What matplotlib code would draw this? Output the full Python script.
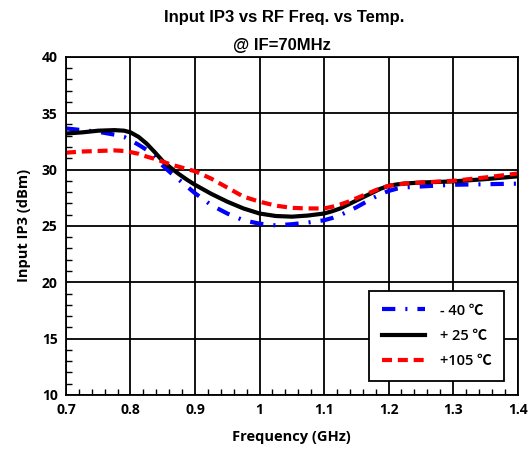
import matplotlib
matplotlib.use("Agg")
import matplotlib.pyplot as plt
from matplotlib.ticker import MultipleLocator, FixedLocator

freq = [0.70, 0.725, 0.75, 0.775, 0.79, 0.80, 0.8125, 0.825, 0.8375, 0.85, 0.8625, 0.875,
        0.8875, 0.90, 0.925, 0.95, 0.975, 1.00, 1.025, 1.05, 1.075, 1.10, 1.1125, 1.125,
        1.1375, 1.15, 1.1625, 1.175, 1.1875, 1.20, 1.2125, 1.225, 1.25, 1.30, 1.35, 1.40]

ip3_m40 = [33.65, 33.5, 33.35, 33.1, 32.9, 32.6, 32.2, 31.75, 31.1, 30.35, 29.7, 29.1,
           28.5, 27.9, 26.85, 26.1, 25.5, 25.2, 25.05, 25.15, 25.3, 25.5, 25.7, 25.95,
           26.3, 26.65, 27.05, 27.45, 27.8, 28.1, 28.3, 28.42, 28.5, 28.65, 28.7, 28.75]
ip3_p25 = [33.2, 33.3, 33.45, 33.5, 33.45, 33.3, 32.9, 32.3, 31.55, 30.75, 30.15, 29.6,
           29.1, 28.65, 27.85, 27.15, 26.55, 26.1, 25.88, 25.82, 25.92, 26.1, 26.3, 26.55,
           26.9, 27.25, 27.6, 27.95, 28.3, 28.55, 28.68, 28.76, 28.85, 28.95, 29.15, 29.4]
ip3_p105 = [31.5, 31.6, 31.65, 31.7, 31.65, 31.55, 31.4, 31.15, 30.95, 30.7, 30.45, 30.25,
            30.05, 29.85, 29.2, 28.4, 27.6, 27.15, 26.8, 26.6, 26.55, 26.55, 26.7, 26.9,
            27.15, 27.45, 27.75, 28.05, 28.35, 28.55, 28.68, 28.76, 28.85, 29.0, 29.3, 29.65]

labels = ["- 40 \u2103", "+ 25 \u2103", "+105 \u2103"]
x_ticks = [0.7, 0.8, 0.9, 1.0, 1.1, 1.2, 1.3, 1.4]
x_ticklabels = ["0.7", "0.8", "0.9", "1", "1.1", "1.2", "1.3", "1.4"]
y_ticks = [10, 15, 20, 25, 30, 35, 40]

fams = ["Open Sans", "Noto Sans CJK SC", "DejaVu Sans"]

fig = plt.figure(figsize=(5.32, 4.55), dpi=100)
ax = fig.add_axes([0.124, 0.132, 0.849, 0.743])

ax.plot(freq, ip3_m40, color="#0000FF", lw=3, dashes=(3.2, 2.4, 0.5, 2.4),
        dash_capstyle="butt", label=labels[0])
ax.plot(freq, ip3_p25, color="black", lw=3, solid_joinstyle="round", label=labels[1])
ax.plot(freq, ip3_p105, color="#FF0000", lw=3, dashes=(2.4, 1.4),
        dash_capstyle="butt", label=labels[2])

ax.set_xlim(0.7, 1.4)
ax.set_ylim(10, 40)
ax.xaxis.set_major_locator(FixedLocator(x_ticks))
ax.set_xticklabels(x_ticklabels)
ax.yaxis.set_major_locator(FixedLocator(y_ticks))
ax.xaxis.set_minor_locator(MultipleLocator(0.02))
ax.yaxis.set_minor_locator(MultipleLocator(1))
ax.tick_params(which="both", direction="in", top=False, right=False)
ax.tick_params(which="major", length=0, pad=6)
ax.tick_params(which="minor", length=4, width=1)
ax.grid(True, which="major", color="black", lw=1.3)
for s in ax.spines.values():
    s.set_linewidth(1.3)

for lab in ax.get_xticklabels() + ax.get_yticklabels():
    lab.set_fontfamily(fams)
    lab.set_fontweight("bold")
    lab.set_fontsize(10)

ax.set_xlabel("Frequency (GHz)", fontfamily=fams, fontweight="bold", fontsize=10.5, labelpad=9)
ax.set_ylabel("Input IP3 (dBm)", fontfamily=fams, fontweight="bold", fontsize=10.5, labelpad=8)

fig.text(0.535, 0.962, "Input IP3 vs RF Freq. vs Temp.", ha="center", va="center",
         fontfamily="Liberation Sans", fontweight="bold", fontsize=12)
fig.text(0.53, 0.900, "@ IF=70MHz", ha="center", va="center",
         fontfamily="Liberation Sans", fontweight="bold", fontsize=12)

leg = ax.legend(loc="lower right", bbox_to_anchor=(0.97, 0.042), fancybox=False, framealpha=1,
                edgecolor="black", handlelength=3.0, handletextpad=1.0, labelspacing=0.78,
                borderpad=0.85, borderaxespad=0.0,
                prop=dict(family=fams, weight="semibold", size=10.5))
leg.get_frame().set_linewidth(1.3)

fig.savefig("out.png", dpi=100)
